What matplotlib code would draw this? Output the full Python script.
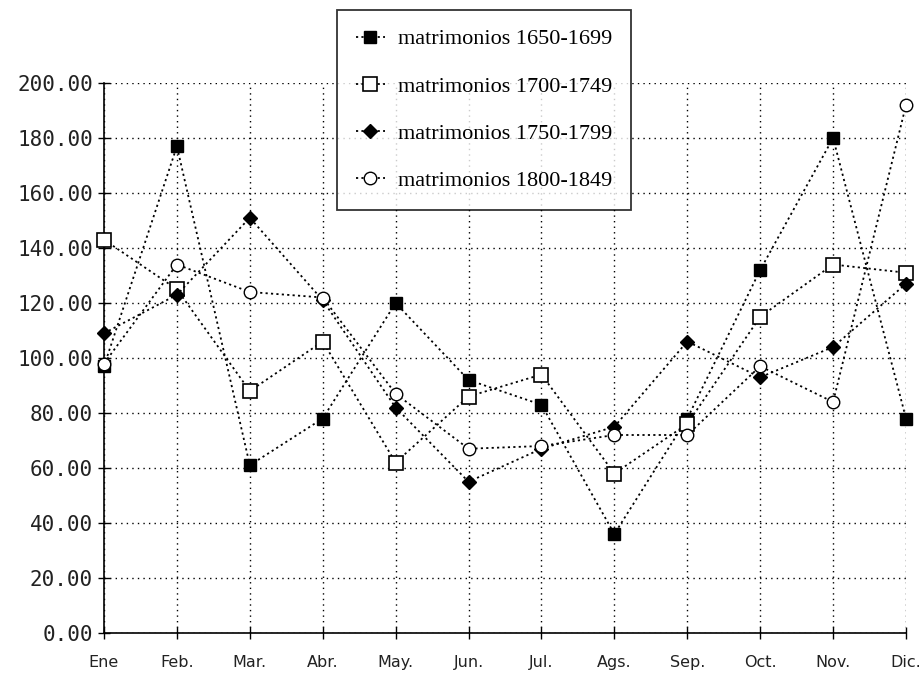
import matplotlib
matplotlib.use('Agg')
import matplotlib.pyplot as plt
from matplotlib.lines import Line2D

# datos
meses = ['Ene', 'Feb.', 'Mar.', 'Abr.', 'May.', 'Jun.', 'Jul.', 'Ags.', 'Sep.', 'Oct.', 'Nov.', 'Dic.']
m1650 = [97, 177, 61, 78, 120, 92, 83, 36, 78, 132, 180, 78]
m1700 = [143, 125, 88, 106, 62, 86, 94, 58, 76, 115, 134, 131]
m1750 = [109, 123, 151, 121, 82, 55, 67, 75, 106, 93, 104, 127]
m1800 = [98, 134, 124, 122, 87, 67, 68, 72, 72, 97, 84, 192]
etiquetas = ['matrimonios 1650-1699', 'matrimonios 1700-1749',
             'matrimonios 1750-1799', 'matrimonios 1800-1849']
yticks = [0, 20, 40, 60, 80, 100, 120, 140, 160, 180, 200]

fig = plt.figure(figsize=(9.23, 6.77), dpi=100)
ax = fig.add_axes([104/923, 1 - 633/677, (906 - 104)/923, (633 - 83)/677])

x = list(range(len(meses)))
estilos = [
    (m1650, dict(marker='s', mfc='black', mec='black', ms=9)),
    (m1700, dict(marker='s', mfc='white', mec='black', ms=10, mew=1.2)),
    (m1750, dict(marker='D', mfc='black', mec='black', ms=7)),
    (m1800, dict(marker='o', mfc='white', mec='black', ms=9, mew=1.0)),
]
handles = []
for (serie, st), lab in zip(estilos, etiquetas):
    ax.plot(x, serie, color='black', ls=(0, (1.2, 1.8)), lw=1.3, clip_on=False, zorder=3, **st)
    handles.append(Line2D([], [], color='black', ls=(0, (1.2, 1.8)), lw=1.3, **st))

ax.set_xlim(0, 11)
ax.set_ylim(0, 200)
ax.set_xticks(x)
ax.set_xticklabels(meses, fontsize=11.5, color='#222', fontfamily='DejaVu Sans')
ax.set_yticks(yticks)
ax.set_yticklabels([f'{v:.2f}' for v in yticks], fontsize=15, color='#222',
                   fontfamily='DejaVu Sans Mono')
ax.tick_params(axis='both', direction='inout', length=8, width=1, color='black')
ax.tick_params(axis='x', pad=12)
ax.tick_params(axis='y', pad=4)

ax.grid(True, color='black', ls=(0, (1, 3)), lw=1)
ax.set_axisbelow(True)
for s in ['top', 'right']:
    ax.spines[s].set_visible(False)
ax.spines['left'].set_linewidth(1.2)
ax.spines['bottom'].set_linewidth(1.2)

leg = fig.legend(handles, etiquetas, loc='upper left',
                 bbox_to_anchor=(337/923, 1 - 10/677), frameon=True, fancybox=False,
                 edgecolor='black', handlelength=1.3, handletextpad=0.6,
                 labelspacing=1.2, borderpad=0.85, borderaxespad=0,
                 prop={'family': 'Liberation Serif', 'size': 16})
leg.get_frame().set_linewidth(1.3)

plt.savefig('out.png', dpi=100)
